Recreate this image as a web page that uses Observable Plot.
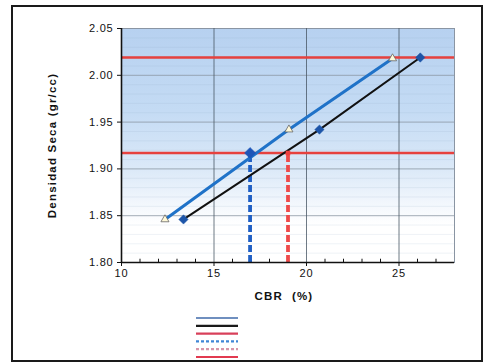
<!DOCTYPE html>
<html><head><meta charset="utf-8">
<script src="https://cdn.jsdelivr.net/npm/d3@7"></script>
<script src="https://cdn.jsdelivr.net/npm/@observablehq/plot@0.6"></script>
<style>
body{margin:0;background:#fff;font-family:"Liberation Sans",Arial,sans-serif;}
#wrap{position:relative;width:484px;height:363px;overflow:hidden;}
#border{position:absolute;left:11px;top:5px;width:472px;height:357px;border:2px solid #1a1a1a;box-sizing:border-box;pointer-events:none;}
#legend{position:absolute;left:0;top:305px;}
#chart svg g[aria-label$="tick label"] text{letter-spacing:0.8px;}
</style></head>
<body><div id="wrap"><div id="chart"></div><div id="legend"></div><div id="border"></div></div>
<script>
// Series 1 (blue, triangles)
const cbrA = [12.35, 19.05, 24.65];
const densA = [1.846, 1.942, 2.018];
// Series 2 (black, diamonds)
const cbrB = [13.35, 20.7, 26.15];
const densB = [1.846, 1.942, 2.019];
// Reference densities (red horizontal lines)
const refDens = [2.019, 1.917];
// CBR read at design density (blue dashed, red dashed)
const cbrDesign = [16.95, 19.0];
const designColors = ["#1f5fc4", "#ee4a4a"];
const designDens = 1.917;
const xTicks = [10, 15, 20, 25];
const yTicks = [1.80, 1.85, 1.90, 1.95, 2.00, 2.05];
const xMinor = [11,12,13,14,16,17,18,19,21,22,23,24,26,27];
const yMinor = d3.range(181, 205).map(v => v / 100).filter(v => Math.round(v * 100) % 5 !== 0);
const legendColors = ["#6f8fbf", "#1a1a1a", "#d8405a", "#3f86d6", "#d895a8", "#e23a50"];
const legendDash = [false, false, false, true, true, false];

const A = cbrA.map((x, i) => ({x, y: densA[i]}));
const B = cbrB.map((x, i) => ({x, y: densB[i]}));
const D = cbrDesign.map((x, i) => ({x, c: designColors[i]}));

const defs = () => {
  const d = d3.create("svg:defs");
  const g = d.append("linearGradient").attr("id", "bgGrad").attr("x1", 0).attr("y1", 0).attr("x2", 0).attr("y2", 1);
  [[0, "#b7d1f0"], [0.35, "#c4dbf4"], [0.6, "#dbe9f8"], [0.76, "#f4f8fd"], [0.84, "#ffffff"], [1, "#ffffff"]]
    .forEach(([o, c]) => g.append("stop").attr("offset", o).attr("stop-color", c));
  return d.node();
};

const chart = Plot.plot({
  width: 484, height: 305,
  marginLeft: 121, marginRight: 30, marginTop: 28, marginBottom: 43,
  style: {fontFamily: '"Liberation Sans", Arial, sans-serif', fontSize: "11px", color: "#111", background: "transparent"},
  x: {type: "linear", domain: [10, 28], ticks: xTicks, tickSize: 4, tickPadding: 3, label: null},
  y: {type: "linear", domain: [1.80, 2.05], ticks: yTicks, tickSize: 4, tickPadding: 4, tickFormat: d3.format(".2f"), label: null},
  marks: [
    defs,
    Plot.frame({fill: "url(#bgGrad)", stroke: "#8a95a3"}),
    Plot.ruleY(yMinor, {stroke: "#8fa8c4", strokeOpacity: 0.22, strokeWidth: 0.7}),
    Plot.ruleY(yTicks.slice(1, -1), {stroke: "#8c97a3", strokeWidth: 0.8}),
    Plot.ruleX(xTicks.slice(1), {stroke: "#4a5866", strokeWidth: 0.8}),
    Plot.ruleX(xMinor, {y1: 1.80, y2: 1.8035, stroke: "#111", strokeWidth: 1}),
    Plot.ruleY(refDens, {stroke: "#e6413e", strokeWidth: 2.6}),
    Plot.ruleX(D, {x: "x", y1: 1.80, y2: designDens, stroke: "c", strokeWidth: 3.8, strokeDasharray: "7,3"}),
    Plot.line(B, {x: "x", y: "y", stroke: "#111", strokeWidth: 2}),
    Plot.line(A, {x: "x", y: "y", stroke: "#1f72c8", strokeWidth: 3}),
    Plot.dot(B, {x: "x", y: "y", symbol: "diamond2", r: 4.2, fill: "#1d55a8", stroke: "#1d55a8", strokeWidth: 0.5}),
    Plot.dot(A, {x: "x", y: "y", symbol: "triangle", r: 3, fill: "#fff9d8", stroke: "#666", strokeWidth: 0.8}),
    Plot.dot(D.slice(0, 1), {x: "x", y: designDens, symbol: "diamond2", r: 5, fill: "#1d55b8", stroke: "#1d55b8", strokeWidth: 0.5}),
    Plot.dot(D.slice(1), {x: "x", y: designDens, symbol: "square", r: 2.6, fill: "#ee3f3f"}),
    Plot.ruleX([10], {stroke: "#111", strokeWidth: 1.6}),
    Plot.ruleY([1.80], {stroke: "#111", strokeWidth: 1.6}),
    Plot.text(["Densidad Seca (gr/cc)"], {frameAnchor: "left", textAnchor: "middle", lineAnchor: "middle", dx: -69, dy: 0, rotate: -90, fontWeight: "bold", fontSize: 11.5, className: "ttl"}),
    Plot.text(["CBR  (%)"], {frameAnchor: "bottom", textAnchor: "middle", lineAnchor: "middle", dy: 34, dx: -4, fontWeight: "bold", fontSize: 11.5, className: "ttl"})
  ]
});
document.getElementById("chart").appendChild(chart);
d3.select(chart).selectAll(".ttl text").style("letter-spacing", "1.2px");

// legend below the plot
const lg = d3.select("#legend").append("svg").attr("width", 484).attr("height", 58);
lg.selectAll("line").data(legendColors).join("line")
  .attr("x1", 196).attr("x2", 238)
  .attr("y1", (d, i) => 13 + i * 7.8).attr("y2", (d, i) => 13 + i * 7.8)
  .attr("stroke", d => d).attr("stroke-width", 2.2)
  .attr("stroke-dasharray", (d, i) => legendDash[i] ? "3,2" : null);
</script></body></html>
